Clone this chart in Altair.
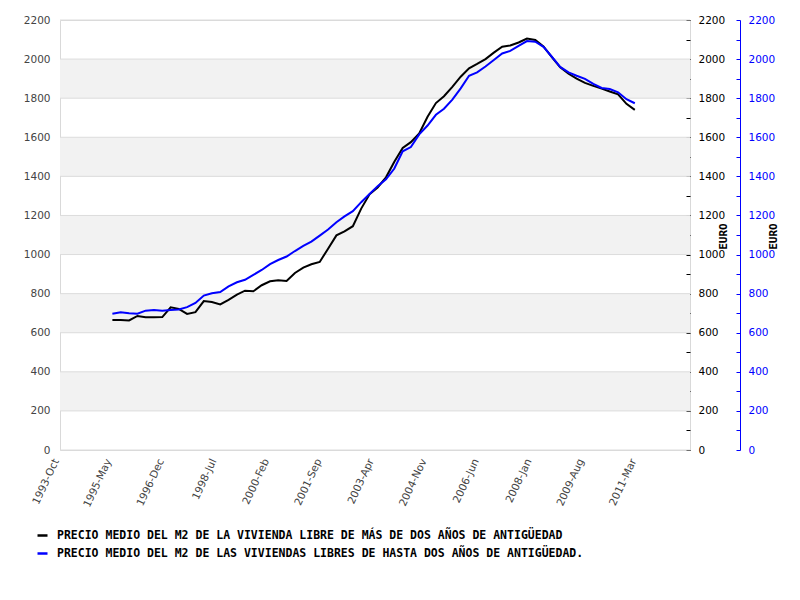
import altair as alt
import pandas as pd

# ---------------- data ----------------
S1 = "PRECIO MEDIO DEL M2 DE LA VIVIENDA LIBRE DE MÁS DE DOS AÑOS DE ANTIGÜEDAD"
S2 = "PRECIO MEDIO DEL M2 DE LAS VIVIENDAS LIBRES DE HASTA DOS AÑOS DE ANTIGÜEDAD."

# quarterly observation dates (first month of each sample)
fechas = [f"{1995 + (4 + 3 * i) // 12:04d}-{(4 + 3 * i) % 12 + 1:02d}-01" for i in range(64)]

mas_dos_anos = [
    665, 665, 663, 686, 679, 679, 680, 730, 722, 696,
    705, 762, 757, 745, 768, 795, 815, 812, 843, 863,
    869, 865, 906, 933, 950, 962, 1030, 1098, 1119, 1145,
    1235, 1308, 1343, 1395, 1475, 1545, 1575, 1620, 1705, 1775,
    1810, 1858, 1910, 1953, 1975, 2000, 2033, 2063, 2070, 2085,
    2105, 2098, 2065, 2010, 1958, 1925, 1900, 1878, 1863, 1849,
    1834, 1820, 1771, 1740,
]
hasta_dos_anos = [
    697, 705, 700, 697, 713, 716, 713, 716, 719, 731,
    752, 790, 802, 808, 837, 858, 871, 896, 921, 951,
    972, 990, 1018, 1044, 1066, 1097, 1128, 1165, 1195, 1222,
    1268, 1310, 1350, 1385, 1440, 1528, 1550, 1615, 1660, 1715,
    1746, 1793, 1850, 1915, 1932, 1962, 1995, 2029, 2042, 2068,
    2092, 2089, 2063, 2012, 1960, 1932, 1915, 1899, 1873, 1852,
    1847, 1830, 1795, 1774,
]

tick_years = [1993, 1995, 1996, 1998, 2000, 2001, 2003, 2004, 2006, 2008, 2009, 2011]
tick_months = [10, 5, 12, 7, 2, 9, 4, 11, 6, 1, 8, 3]

band_lo = [200, 600, 1000, 1400, 1800]
band_hi = [400, 800, 1200, 1600, 2000]
grid_values = [0, 200, 400, 600, 800, 1000, 1200, 1400, 1600, 1800, 2000, 2200]
y_ticks = list(range(0, 2201, 100))

# ---------------- tables ----------------
df = pd.DataFrame({
    "fecha": fechas * 2,
    "valor": mas_dos_anos + hasta_dos_anos,
    "serie": [S1] * len(fechas) + [S2] * len(fechas),
})
bands = pd.DataFrame({"lo": band_lo, "hi": band_hi})
grid = pd.DataFrame({"v": grid_values})

ydom = alt.Scale(domain=[0, 2200], nice=False)

x_axis = alt.Axis(
    values=[alt.DateTime(year=y, month=m, date=1, utc=True) for y, m in zip(tick_years, tick_months)],
    labelExpr="utcFormat(datum.value, '%Y-%b')",
    labelAngle=-65, labelAlign="right", labelBaseline="middle", labelPadding=9,
    labelOffset=-4,
    labelFont="DejaVu Sans", labelFontSize=10.5, labelColor="#444444",
    labelOverlap=False, domain=False, ticks=False, grid=False, title=None,
)
x_enc = alt.X(
    "fecha:T",
    scale=alt.Scale(type="utc", domain=[alt.DateTime(year=1993, month=10, date=1, utc=True),
                                        alt.DateTime(year=2012, month=10, date=1, utc=True)]),
    axis=x_axis,
)
color_enc = alt.Color(
    "serie:N",
    scale=alt.Scale(domain=[S1, S2], range=["#000000", "#0000ff"]),
    legend=alt.Legend(
        orient="none", legendX=-24, legendY=509, direction="vertical", title=None,
        symbolType="stroke", symbolStrokeWidth=2.5, symbolSize=100,
        labelFont="DejaVu Sans Mono", labelFontWeight="bold", labelFontSize=11.5,
        labelColor="#000000", labelLimit=0, labelOffset=8, rowPadding=6, padding=0,
    ),
)

band_layer = alt.Chart(bands).mark_rect(color="#f2f2f2").encode(
    y=alt.Y("lo:Q", scale=ydom, axis=alt.Axis(
        values=grid_values, format="d", grid=False, ticks=False, tickSize=0, domain=False,
        labelColor="#444444", labelFont="DejaVu Sans", labelFontSize=10.5, labelPadding=10,
        title=None)),
    y2="hi:Q",
)
grid_layer = alt.Chart(grid).mark_rule(color="#dcdcdc", strokeWidth=1).encode(
    y=alt.Y("v:Q", scale=ydom, axis=None)
)

def right_axis(offset, color, domain):
    return alt.Axis(
        orient="left", offset=offset, values=y_ticks, format="d",
        labelExpr="datum.value % 200 == 0 ? datum.label : ''",
        tickSize=4, tickColor=color, domain=domain, domainColor=color,
        labelAlign="left", labelPadding=-12, labelColor=color,
        labelFont="DejaVu Sans", labelFontSize=10.5, labelOverlap=False, grid=False,
        title="EURO", titleX=33, titleY=216, titleAngle=270, titleAlign="center",
        titleBaseline="middle", titleFont="DejaVu Sans Mono", titleFontWeight="bold",
        titleFontSize=11, titleColor="#000000",
    )

black_layer = alt.Chart(df).transform_filter(alt.datum.serie == S1).mark_line(strokeWidth=2).encode(
    x=x_enc,
    y=alt.Y("valor:Q", scale=ydom, axis=right_axis(-630, "#000000", False)),
    color=color_enc,
)
blue_layer = alt.Chart(df).transform_filter(alt.datum.serie == S2).mark_line(strokeWidth=2).encode(
    x=x_enc,
    y=alt.Y("valor:Q", scale=ydom, axis=right_axis(-680, "#0000ff", True)),
    color=color_enc,
)

chart = alt.layer(band_layer, grid_layer, black_layer, blue_layer).resolve_scale(
    y="independent"
).properties(
    width=630, height=430,
    padding={"left": 52, "top": 12, "right": 90, "bottom": 120},
    autosize=alt.AutoSizeParams(type="none"),
).configure_view(stroke="#d9d9d9")

chart.save("out.html", embed_options={"renderer": "svg", "actions": False})
